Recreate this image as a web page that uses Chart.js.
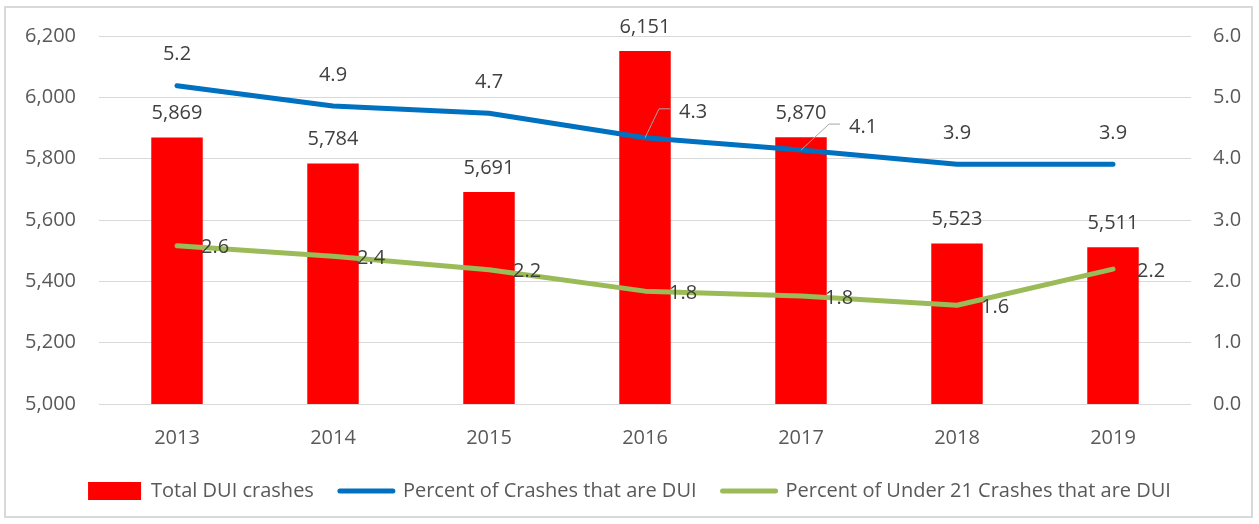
<!DOCTYPE html>
<html>
<head>
<meta charset="utf-8">
<script src="https://cdn.jsdelivr.net/npm/chart.js@4.4.1/dist/chart.umd.min.js"></script>
<style>
  html, body { margin: 0; padding: 0; background: #fff; }
  #frame { position: absolute; left: 4px; top: 6px; width: 1249px; height: 512px; border: 2px solid #d9d9d9; box-sizing: border-box; }
  #wrap { position: absolute; left: 0; top: 0; width: 1259px; height: 524px; }
</style>
</head>
<body>
<div id="frame"></div>
<div id="wrap"><canvas id="chart" width="1259" height="524"></canvas></div>
<script>
// chart values
var years = ["2013", "2014", "2015", "2016", "2017", "2018", "2019"];
var totalDui = [5869, 5784, 5691, 6151, 5870, 5523, 5511];
var pctDui = [5.19, 4.86, 4.74, 4.34, 4.14, 3.91, 3.91];
var pctUnder21 = [2.58, 2.41, 2.19, 1.84, 1.76, 1.61, 2.2];
var seriesNames = ["Total DUI crashes", "Percent of Crashes that are DUI", "Percent of Under 21 Crashes that are DUI"];

var FONT = "'Open Sans', sans-serif";
var labelColor = "#404040";

// draws the data labels the way the spreadsheet did
var labelPlugin = {
    id: "valueLabels",
    afterDatasetsDraw: function(chart) {
        var ctx = chart.ctx;
        ctx.save();
        ctx.font = "20px " + FONT;
        ctx.fillStyle = labelColor;
        ctx.textBaseline = "middle";

        // bars: value above the bar
        chart.getDatasetMeta(0).data.forEach(function(el, i) {
            ctx.textAlign = "center";
            ctx.fillText(totalDui[i].toLocaleString("en-US"), el.x, el.y - 24);
        });

        // percent of crashes: above the line, two with leader lines
        chart.getDatasetMeta(1).data.forEach(function(el, i) {
            var txt = pctDui[i].toFixed(1);
            if (i == 3 || i == 4) {
                var dx = i == 3 ? 14 : 28, dy = i == 3 ? -29 : -26;
                ctx.strokeStyle = "#a6a6a6";
                ctx.lineWidth = 1;
                ctx.beginPath();
                ctx.moveTo(el.x, el.y);
                ctx.lineTo(el.x + dx, el.y + dy);
                ctx.lineTo(el.x + dx + 11, el.y + dy);
                ctx.stroke();
                ctx.textAlign = "left";
                ctx.fillText(txt, el.x + dx + 20, el.y + dy + 3);
            } else {
                ctx.textAlign = "center";
                ctx.fillText(txt, el.x, el.y - 31);
            }
        });

        // under 21: to the right of the point
        chart.getDatasetMeta(2).data.forEach(function(el, i) {
            ctx.textAlign = "left";
            ctx.fillText(pctUnder21[i].toFixed(1), el.x + 24, el.y + 2);
        });
        ctx.restore();
    }
};

var ctx = document.getElementById("chart").getContext("2d");
var chart = new Chart(ctx, {
    data: {
        labels: years,
        datasets: [
            {
                type: "bar",
                label: seriesNames[0],
                data: totalDui,
                backgroundColor: "#ff0000",
                barPercentage: 0.33,
                categoryPercentage: 1,
                yAxisID: "y",
                order: 3
            },
            {
                type: "line",
                label: seriesNames[1],
                data: pctDui,
                borderColor: "#0070c0",
                backgroundColor: "#0070c0",
                borderWidth: 5,
                borderCapStyle: "round",
                borderJoinStyle: "round",
                tension: 0,
                pointRadius: 0,
                yAxisID: "y1",
                order: 2
            },
            {
                type: "line",
                label: seriesNames[2],
                data: pctUnder21,
                borderColor: "#9bbb59",
                backgroundColor: "#9bbb59",
                borderWidth: 5,
                borderCapStyle: "round",
                borderJoinStyle: "round",
                tension: 0,
                pointRadius: 0,
                yAxisID: "y1",
                order: 1
            }
        ]
    },
    options: {
        responsive: false,
        animation: false,
        layout: { padding: { left: 0, right: 0, top: 36, bottom: 13 } },
        plugins: {
            tooltip: { enabled: false },
            legend: {
                position: "bottom",
                labels: {
                    font: { family: FONT, size: 20 },
                    color: "#595959",
                    usePointStyle: true,
                    pointStyleWidth: 53,
                    boxHeight: 18,
                    padding: 26,
                    generateLabels: function() {
                        return [
                            { text: seriesNames[0], fillStyle: "#ff0000", strokeStyle: "#ff0000", lineWidth: 0, pointStyle: "rect", datasetIndex: 0, fontColor: "#595959" },
                            { text: seriesNames[1], fillStyle: "#0070c0", strokeStyle: "#0070c0", lineWidth: 5, lineCap: "round", pointStyle: "line", datasetIndex: 1, fontColor: "#595959" },
                            { text: seriesNames[2], fillStyle: "#9bbb59", strokeStyle: "#9bbb59", lineWidth: 5, lineCap: "round", pointStyle: "line", datasetIndex: 2, fontColor: "#595959" }
                        ];
                    }
                }
            }
        },
        scales: {
            x: {
                grid: { display: false, drawTicks: false },
                border: { display: false },
                ticks: { font: { family: FONT, size: 20 }, color: "#595959", padding: 22 },
                afterFit: function(scale) { scale.height = 51; }
            },
            y: {
                position: "left",
                min: 5000,
                max: 6200,
                ticks: {
                    stepSize: 200,
                    font: { family: FONT, size: 20 },
                    color: "#595959",
                    padding: 23,
                    callback: function(v) { return v.toLocaleString("en-US"); }
                },
                grid: { color: "#d9d9d9", lineWidth: 1, drawTicks: false },
                border: { display: false },
                afterFit: function(scale) { scale.width = 99; }
            },
            y1: {
                position: "right",
                min: 0,
                max: 6,
                ticks: {
                    stepSize: 1,
                    font: { family: FONT, size: 20 },
                    color: "#595959",
                    padding: 22,
                    callback: function(v) { return v.toFixed(1); }
                },
                grid: { display: false, drawTicks: false },
                border: { display: false },
                afterFit: function(scale) { scale.width = 68; }
            }
        }
    },
    plugins: [labelPlugin]
});
</script>
</body>
</html>
